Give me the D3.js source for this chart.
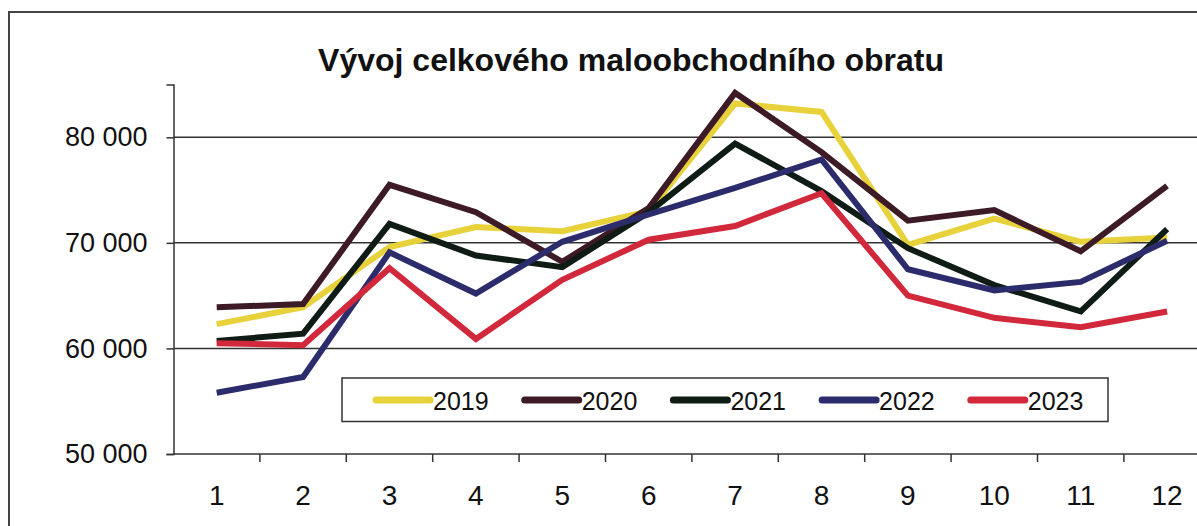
<!DOCTYPE html>
<html>
<head>
<meta charset="utf-8">
<script src="https://cdn.jsdelivr.net/npm/d3@7"></script>
<style>
  html, body { margin: 0; padding: 0; background: #fff; }
  svg { display: block; font-family: "Liberation Sans", Arial, sans-serif; }
  .tick text { fill: #111; }
</style>
</head>
<body>
<svg id="chart" width="1197" height="526"></svg>
<script>
// data (CZK mil.)
const months = ["1", "2", "3", "4", "5", "6", "7", "8", "9", "10", "11", "12"];
const years = ["2019", "2020", "2021", "2022", "2023"];
const v2019 = [62300, 63900, 69600, 71500, 71100, 73000, 83200, 82400, 69800, 72300, 70100, 70500];
const v2020 = [63900, 64200, 75500, 72900, 68200, 73300, 84200, 78600, 72100, 73100, 69200, 75400];
const v2021 = [60700, 61400, 71800, 68800, 67700, 72900, 79400, 74900, 69500, 66000, 63500, 71300];
const v2022 = [55800, 57300, 69100, 65200, 70100, 72700, 75200, 77900, 67500, 65500, 66300, 70200];
const v2023 = [60500, 60300, 67600, 60900, 66500, 70300, 71600, 74700, 65000, 62900, 62000, 63500];
const yTicks = [50000, 60000, 70000, 80000];
const title = "Vývoj celkového maloobchodního obratu";

const series = [v2019, v2020, v2021, v2022, v2023];
const colors = ["#e8d23c", "#3d1b26", "#0f1c15", "#2c2c6c", "#d2283b"];

const svg = d3.select("#chart");

// plot area
const plotLeft = 173.5, step = 86.4;
const plotTop = 84.5, plotBottom = 454;

const x = d3.scaleBand().domain(months).range([plotLeft, plotLeft + step * months.length]);
const y = d3.scaleLinear().domain([50000, 85000]).range([plotBottom, plotTop]);

// outer frame (continues past the right and bottom edges)
svg.append("rect").attr("x", 9).attr("y", 12).attr("width", 1300).attr("height", 600)
   .attr("fill", "none").attr("stroke", "#444").attr("stroke-width", 2);

// title
svg.append("text").attr("x", 631).attr("y", 71).attr("text-anchor", "middle")
   .style("font-weight", "bold").style("font-size", "32px").attr("fill", "#111")
   .text(title);

// gridlines
svg.append("g").selectAll("line").data(yTicks.slice(1)).join("line")
   .attr("x1", plotLeft).attr("x2", 1197)
   .attr("y1", d => y(d)).attr("y2", d => y(d))
   .attr("stroke", "#333").attr("stroke-width", 1.5);

// y axis
const loc = d3.formatLocale({decimal: ",", thousands: " ", grouping: [3], currency: ["", ""]});
const yAxis = svg.append("g").attr("transform", `translate(${plotLeft},0)`)
   .call(d3.axisLeft(y).tickValues(yTicks).tickFormat(loc.format(",")).tickSize(7).tickPadding(19));
yAxis.select(".domain").attr("stroke", "#333").attr("stroke-width", 1.5);
yAxis.selectAll(".tick line").attr("stroke", "#333").attr("stroke-width", 1.5);
yAxis.selectAll(".tick text").style("font-size", "27px").attr("font-family", null);

// x axis
const xAxis = svg.append("g").attr("transform", `translate(0,${plotBottom})`)
   .call(d3.axisBottom(x).tickSize(0).tickPadding(31));
xAxis.select(".domain").attr("d", `M${plotLeft},0H1197`).attr("stroke", "#333").attr("stroke-width", 1.5);
xAxis.selectAll(".tick text").style("font-size", "28px").attr("font-family", null);
// ticks between categories
xAxis.append("g").selectAll("line").data(months).join("line")
   .attr("x1", d => x(d) + x.bandwidth()).attr("x2", d => x(d) + x.bandwidth())
   .attr("y1", 0).attr("y2", 8)
   .attr("stroke", "#333").attr("stroke-width", 1.5);

// lines
const line = d3.line()
   .x((d, i) => x(months[i]) + x.bandwidth() / 2)
   .y(d => y(d));

svg.append("g").selectAll("path").data(series).join("path")
   .attr("d", line)
   .attr("fill", "none")
   .attr("stroke", (d, i) => colors[i])
   .attr("stroke-width", 6)
   .attr("stroke-linejoin", "miter");

// legend
const lg = svg.append("g");
lg.append("rect").attr("x", 342).attr("y", 378).attr("width", 766).attr("height", 43.5)
   .attr("fill", "#fff").attr("stroke", "#333").attr("stroke-width", 1.5);
const item = lg.selectAll("g.item").data(years).join("g")
   .attr("class", "item")
   .attr("transform", (d, i) => `translate(${373 + i * 148.7},400)`);
item.append("line").attr("x1", 3).attr("x2", 57).attr("y1", 0).attr("y2", 0)
   .attr("stroke", (d, i) => colors[i]).attr("stroke-width", 7).attr("stroke-linecap", "round");
item.append("text").attr("x", 60).attr("y", 9.5).style("font-size", "25px").attr("fill", "#111")
   .text(d => d);
</script>
</body>
</html>
